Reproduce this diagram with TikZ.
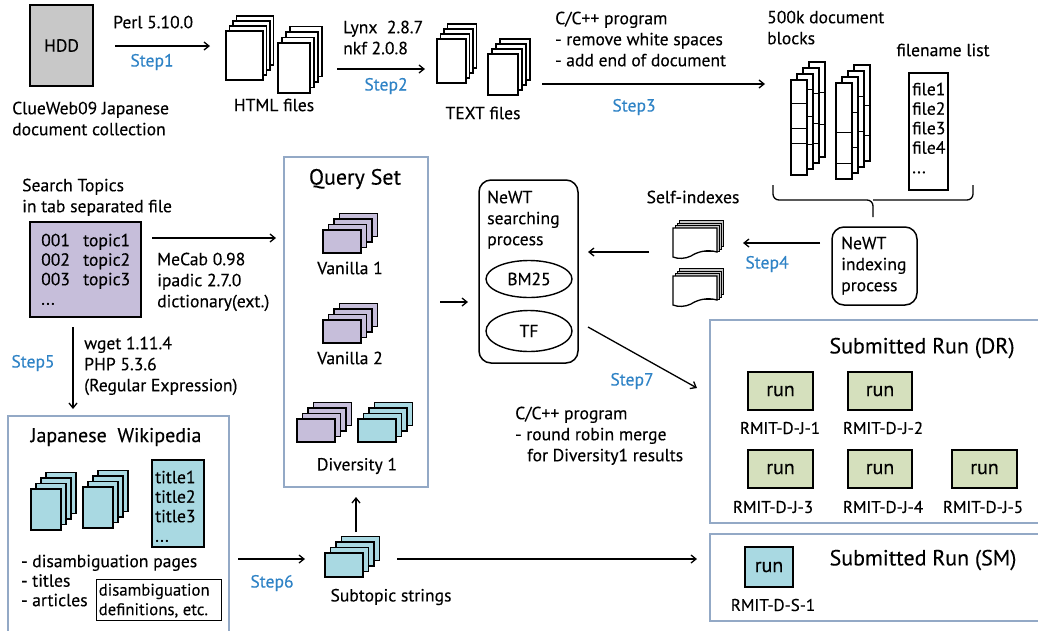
\documentclass[tikz,border=0pt]{standalone}
\usepackage{fontspec}
\setmainfont{PT Sans}[FakeBold=0.25]
\usetikzlibrary{arrows.meta,shapes.geometric}
\definecolor{hddgray}{HTML}{C8C8C8}
\definecolor{qpurple}{HTML}{C6BEDA}
\definecolor{qcyan}{HTML}{A9D9E2}
\definecolor{rungreen}{HTML}{D5E0BD}
\definecolor{framecol}{HTML}{93A9C6}
\definecolor{stepblue}{HTML}{2F83C6}
\newcommand\fs{\fontsize{17.6}{21}\selectfont}
\newcommand\fsl{\fontsize{17.6}{19.5}\selectfont}
\newcommand\fsr{\fontsize{17}{21}\selectfont}
\newcommand\fsd{\fontsize{16.8}{19.5}\selectfont}
\newcommand\DocStack[7]{%
  \foreach \k in {3,2,1,0}{\filldraw[fill=#5,line width=1.4pt] ({#1+\k*#6},{#2-\k*#7}) rectangle ++(#3,#4);}}
\newcommand\WavyDoc[2]{%
  \foreach \k in {3,2,1}{\filldraw[fill=gray!45,line width=1pt] ({#1+\k*2.2},{#2-\k*2.5}) rectangle ++(44,26);}
  \filldraw[fill=white,line width=1.3pt] (#1,#2) -- ++(44,0) -- ++(0,24)
     .. controls ({#1+34},{#2+21}) and ({#1+24},{#2+24}) .. ({#1+18},{#2+28})
     .. controls ({#1+12},{#2+31}) and ({#1+5},{#2+31}) .. ({#1},{#2+29}) -- cycle;}
\newcommand\ColStack[4]{% x y height ; #4 = list of line lists per column
  \foreach \k/\ls in {#4}{%
    \filldraw[fill=white,line width=1.3pt] ({#1+\k*6},{#2-\k*6}) rectangle ++(16,#3);
    \foreach \l in \ls {\draw[line width=1pt] ({#1+\k*6},{#2-\k*6+\l}) -- ++(16,0);}}}
\tikzset{
  lbl/.style={font=\fs, inner sep=0pt, align=left, anchor=north west},
  txt/.style={font=\fs, inner sep=0pt},
  steplbl/.style={font=\fs, text=stepblue, inner sep=0pt},
  arr/.style={-{Straight Barb[length=5pt,width=8pt]}, line width=1.3pt},
  frame/.style={draw=framecol, line width=1.2pt},
  rbox/.style={draw, line width=1.5pt, rounded corners=12pt, inner sep=0pt},
  runbox/.style={draw, line width=1.4pt, fill=rungreen, font=\fontsize{20}{24}\selectfont, inner sep=0pt},
  runlbl/.style={font=\fsr, inner sep=0pt},
  title/.style={font=\fontsize{22}{26}\selectfont, inner sep=0pt}
}
\begin{document}
\begin{tikzpicture}[x=1pt,y=-1pt]
\useasboundingbox (0,0) rectangle (1038,630);

% ---------- top row ----------
\node[draw, fill=hddgray, line width=1.2pt, minimum width=63pt, minimum height=81pt, inner sep=0pt, font=\fs] (hdd) at (61.5,45.5) {HDD};
\node[lbl] (clue) at (12,101.5) {ClueWeb09 Japanese\\document collection};

\coordinate (s1a) at (115,46); \coordinate (s1b) at (210,46);
\draw[arr] (s1a) -- (s1b);
\node[lbl] (perl) at (113,15.5) {Perl 5.10.0};
\node[steplbl] (step1) at (152,62) {Step1};

\DocStack{226}{31}{37}{49}{white}{3.5}{5}
\DocStack{278}{43}{32}{50}{white}{4}{5.5}
\node[txt] (htmllbl) at (274,105) {HTML files};

\coordinate (s2a) at (337,69); \coordinate (s2b) at (425,69);
\draw[arr] (s2a) -- (s2b);
\node[lbl] (lynx) at (343,20.5) {Lynx\ \ 2.8.7\\nkf 2.0.8};
\node[steplbl] (step2) at (386,86) {Step2};

\DocStack{437}{39}{29}{44}{white}{3.5}{5}
\DocStack{488}{54}{30}{41}{white}{4}{5}
\node[txt] (textlbl) at (483,113) {TEXT files};

\coordinate (s3a) at (542,84); \coordinate (s3b) at (765,84);
\draw[arr] (s3a) -- (s3b);
\node[lbl] (cprog) at (555,11.5) {C/C++ program\\- remove white spaces\\- add end of document};
\node[steplbl] (step3) at (634,107) {Step3};

\node[lbl] (blocks) at (767,10.5) {500k document\\blocks};
\ColStack{791}{80}{95}{3/{30,62},2/{25,55,75},1/{15,42,70},0/{23,48,63}}
\ColStack{836}{83}{96}{3/{40,70},2/{25,60},1/{35,70},0/{49,80}}

\node[txt] (fnlbl) at (943,50) {filename list};
\node[draw, line width=1.4pt, minimum width=39pt, minimum height=117pt, inner sep=0pt] (flist) at (928.5,131.5) {};
\node[lbl, font=\fsl] (files) at (912,82.5) {file1\\file2\\file3\\file4\\...};

% brace
\coordinate (brl) at (773,185); \coordinate (brr) at (973,185); \coordinate (brt) at (873,217);
\draw[line width=1.3pt, rounded corners=6pt] (brl) -- (773,200) -- (873,200) -- (brt);
\draw[line width=1.3pt, rounded corners=6pt] (brr) -- (973,200) -- (873,200);

\node[rbox, minimum width=85pt, minimum height=78pt] (nidx) at (874.5,266) {};
\node[lbl] (nidxt) at (841,236.5) {NeWT\\indexing\\process};

% step4
\coordinate (s4a) at (820,243); \coordinate (s4b) at (743,243);
\draw[arr] (s4a) -- (s4b);
\node[steplbl] (step4) at (767,264) {Step4};
\node[txt] (selfidx) at (693,197) {Self-indexes};
\WavyDoc{673}{228}
\WavyDoc{673}{276}
\coordinate (sia) at (649,252); \coordinate (sib) at (588,252);
\draw[arr] (sia) -- (sib);

% searching
\node[rbox, minimum width=99pt, minimum height=183pt] (nsrch) at (528.5,271.5) {};
\node[lbl] (nsrcht) at (487,190.5) {NeWT\\searching\\process};
\node[draw, ellipse, line width=1.4pt, minimum width=86pt, minimum height=37pt, inner sep=0pt, font=\fs] (bm) at (529,279) {BM25};
\node[draw, ellipse, line width=1.4pt, minimum width=86pt, minimum height=41pt, inner sep=0pt, font=\fs] (tf) at (529,331) {TF};

\coordinate (qsa) at (440,302); \coordinate (qsb) at (468,302);
\draw[arr] (qsa) -- (qsb);

% step7
\coordinate (s7a) at (588,327); \coordinate (s7b) at (697,388);
\draw[arr] (s7a) -- (s7b);
\node[steplbl] (step7) at (632,381) {Step7};
\node[lbl] (cprog2) at (515,406.5) {C/C++ program\\- round robin merge\\\hspace*{12pt}for Diversity1 results};

% ---------- topics ----------
\node[lbl] (stopics) at (22,178.5) {Search Topics\\in tab separated file};
\node[draw, fill=qpurple, line width=1.2pt, minimum width=111pt, minimum height=95pt, inner sep=0pt] (topics) at (85.5,269.5) {};
\node[lbl, font=\fsl] (tnum) at (41,233.5) {001\\002\\003\\...};
\node[lbl, font=\fsl] (tnam) at (83,233.5) {topic1\\topic2\\topic3};
\coordinate (tqa) at (152,238); \coordinate (tqb) at (276,238);
\draw[arr] (tqa) -- (tqb);
\node[lbl] (mecab) at (157,252.5) {MeCab 0.98\\ipadic 2.7.0\\dictionary(ext.)};

\coordinate (s5a) at (73,327); \coordinate (s5b) at (73,409);
\draw[arr] (s5a) -- (s5b);
\node[lbl] (wget) at (84,336.5) {wget 1.11.4\\PHP 5.3.6\\(Regular Expression)};
\node[steplbl] (step5) at (33,363) {Step5};

% ---------- query set ----------
\node[frame, minimum width=144pt, minimum height=330pt, inner sep=0pt] (qset) at (356,322) {};
\node[title] (qtitle) at (355,179) {Query Set};
\DocStack{323}{230}{38}{23}{qpurple}{5.5}{5.5}
\node[txt] (van1) at (350,268) {Vanilla 1};
\DocStack{323}{320}{38}{23}{qpurple}{5.5}{5.5}
\node[txt] (van2) at (350,358) {Vanilla 2};
\DocStack{297}{419}{38}{23}{qpurple}{5.5}{5.5}
\DocStack{358}{419}{38}{23}{qcyan}{5.5}{5.5}
\node[txt] (div1) at (357,466) {Diversity 1};

% ---------- wikipedia ----------
\draw[frame] (8,634) -- (8,416) -- (229,416) -- (229,634);
\node[font=\fontsize{20}{24}\selectfont, inner sep=0pt] (wtitle) at (116,437) {Japanese\ \ Wikipedia};
\DocStack{31}{489}{30}{41}{qcyan}{5}{5.5}
\DocStack{83}{487}{30}{41}{qcyan}{5}{5.5}
\node[draw, fill=qcyan, line width=1.4pt, minimum width=52pt, minimum height=87pt, inner sep=0pt] (tbox) at (178,503.5) {};
\node[lbl, font=\fsl] (tlist) at (155,470.5) {title1\\title2\\title3\\...};
\node[lbl, font=\fsl] (bul) at (21,554.5) {- disambiguation pages\\- titles\\- articles};
\node[draw, line width=1pt, minimum width=125pt, minimum height=41pt, inner sep=0pt] (defbox) at (158.5,599.5) {};
\node[lbl, font=\fsd] (deft) at (98.5,583.5) {disambiguation\\definitions, etc.};

\coordinate (s6a) at (238,559); \coordinate (s6b) at (305,559);
\draw[arr] (s6a) -- (s6b);
\node[steplbl] (step6) at (272,583) {Step6};
\DocStack{325}{553}{38}{24}{qcyan}{5.5}{5.5}
\node[txt] (subt) at (391,597) {Subtopic strings};
\coordinate (sta) at (356,532); \coordinate (stb) at (356,497);
\draw[arr] (sta) -- (stb);
\coordinate (ssa) at (397,559); \coordinate (ssb) at (697,559);
\draw[arr] (ssa) -- (ssb);

% ---------- submitted runs ----------
\draw[frame] (1042,320) -- (710,320) -- (710,523) -- (1042,523);
\node[title] (drt) at (922,348) {Submitted Run (DR)};
\node[runbox, minimum width=65pt, minimum height=38pt] (r1) at (780.5,391) {run};
\node[runbox, minimum width=64pt, minimum height=38pt] (r2) at (880,391) {run};
\node[runbox, minimum width=65pt, minimum height=38pt] (r3) at (780.5,469) {run};
\node[runbox, minimum width=64pt, minimum height=38pt] (r4) at (880,469) {run};
\node[runbox, minimum width=65pt, minimum height=38pt] (r5) at (984.5,469) {run};
\node[runlbl] (l1) at (780,428) {RMIT-D-J-1};
\node[runlbl] (l2) at (883,428) {RMIT-D-J-2};
\node[runlbl] (l3) at (773,507) {RMIT-D-J-3};
\node[runlbl] (l4) at (883,507) {RMIT-D-J-4};
\node[runlbl] (l5) at (983,507) {RMIT-D-J-5};

\draw[frame] (1042,534) -- (710,534) -- (710,621) -- (1042,621);
\node[title] (smt) at (923,560) {Submitted Run (SM)};
\node[runbox, fill=qcyan, minimum width=48pt, minimum height=40pt] (rs) at (769,567) {run};
\node[runlbl] (ls) at (773,605) {RMIT-D-S-1};
\end{tikzpicture}
\end{document}
